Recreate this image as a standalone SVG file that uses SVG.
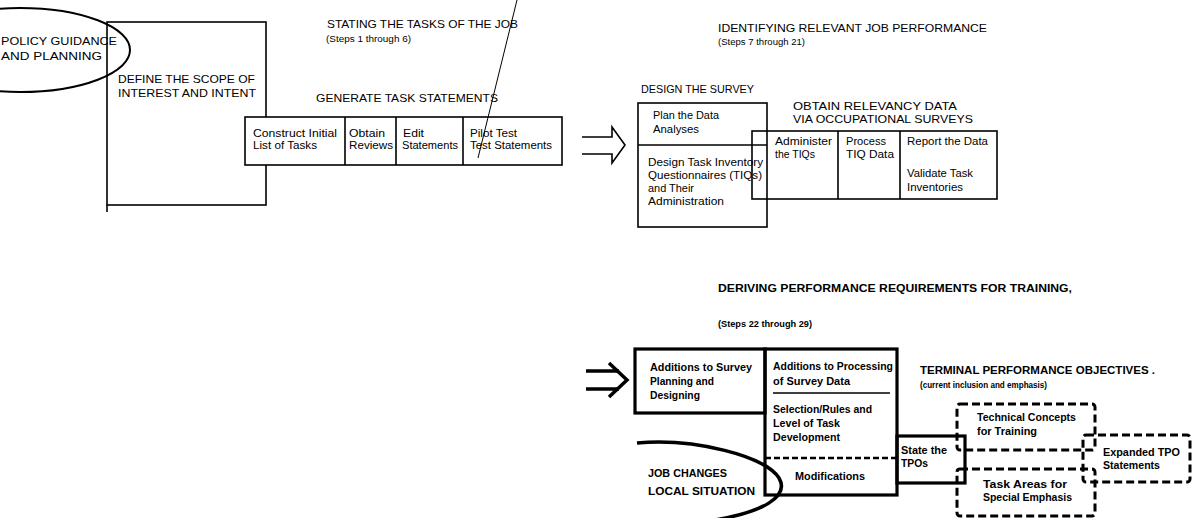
<svg xmlns="http://www.w3.org/2000/svg" width="1198" height="518" viewBox="0 0 1198 518">
<style>
.ln{fill:none;stroke:#000;stroke-width:1.6}
.bx{fill:#fff;stroke:#000;stroke-width:1.6}
.thk{fill:none;stroke:#000;stroke-width:3.2}
.dsh{fill:none;stroke:#000;stroke-width:3;stroke-dasharray:8 4;stroke-linejoin:round}
text{font-family:"Liberation Sans",Arial,sans-serif;fill:#000}
.h{font-size:10.5px}
.s{font-size:10px}
.st{font-size:8.5px}
.b{font-weight:bold}
</style>
<rect width="1198" height="518" fill="#fff"/>

<g id="policy">
<ellipse class="ln" cx="20" cy="50" rx="110" ry="42" style="stroke-width:2"/>
<text class="h" x="1" y="45" textLength="116" lengthAdjust="spacingAndGlyphs">POLICY GUIDANCE</text>
<text class="h" x="1" y="60" textLength="101" lengthAdjust="spacingAndGlyphs">AND PLANNING</text>
</g>

<g id="scope">
<rect class="ln" x="107" y="22" width="159" height="183"/>
<path class="ln" d="M107,205 V212"/>
<text class="h" x="118" y="83" textLength="137" lengthAdjust="spacingAndGlyphs">DEFINE THE SCOPE OF</text>
<text class="h" x="118" y="97" textLength="138" lengthAdjust="spacingAndGlyphs">INTEREST AND INTENT</text>
</g>

<g id="stating-heading">
<text class="h" x="327" y="28" textLength="191" lengthAdjust="spacingAndGlyphs">STATING THE TASKS OF THE JOB</text>
<text class="st" x="326" y="42" textLength="85" lengthAdjust="spacingAndGlyphs">(Steps 1 through 6)</text>
</g>

<g id="generate">
<text class="h" x="316" y="102" textLength="182" lengthAdjust="spacingAndGlyphs">GENERATE TASK STATEMENTS</text>
<rect class="bx" x="245" y="117" width="317" height="48"/>
<path class="ln" d="M345,117 V165 M396,117 V165 M463,117 V165"/>
<text class="s" x="253" y="137" textLength="84" lengthAdjust="spacingAndGlyphs">Construct Initial</text>
<text class="s" x="253" y="149" textLength="64" lengthAdjust="spacingAndGlyphs">List of Tasks</text>
<text class="s" x="349" y="137" textLength="36" lengthAdjust="spacingAndGlyphs">Obtain</text>
<text class="s" x="349" y="149" textLength="44" lengthAdjust="spacingAndGlyphs">Reviews</text>
<text class="s" x="403" y="137" textLength="21" lengthAdjust="spacingAndGlyphs">Edit</text>
<text class="s" x="402" y="149" textLength="56" lengthAdjust="spacingAndGlyphs">Statements</text>
<text class="s" x="470" y="137" textLength="47" lengthAdjust="spacingAndGlyphs">Pilot Test</text>
<text class="s" x="470" y="149" textLength="82" lengthAdjust="spacingAndGlyphs">Test Statements</text>
</g>

<g id="identifying-heading">
<text class="h" x="718" y="32" textLength="269" lengthAdjust="spacingAndGlyphs">IDENTIFYING RELEVANT JOB PERFORMANCE</text>
<text class="st" x="718" y="45" textLength="87" lengthAdjust="spacingAndGlyphs">(Steps 7 through 21)</text>
</g>

<g id="design">
<text class="h" x="641" y="93" textLength="113" lengthAdjust="spacingAndGlyphs">DESIGN THE SURVEY</text>
<rect class="ln" x="638" y="103" width="129" height="124"/>
<path class="ln" d="M638,145 H767"/>
<text class="s" x="653" y="119" textLength="66" lengthAdjust="spacingAndGlyphs">Plan the Data</text>
<text class="s" x="653" y="133" textLength="46" lengthAdjust="spacingAndGlyphs">Analyses</text>
<text class="s" x="648" y="166" textLength="115" lengthAdjust="spacingAndGlyphs">Design Task Inventory</text>
<text class="s" x="648" y="179" textLength="114" lengthAdjust="spacingAndGlyphs">Questionnaires (TIQs)</text>
<text class="s" x="648" y="192" textLength="46" lengthAdjust="spacingAndGlyphs">and Their</text>
<text class="s" x="648" y="205" textLength="76" lengthAdjust="spacingAndGlyphs">Administration</text>
</g>

<g id="obtain">
<text class="h" x="793" y="110" textLength="164" lengthAdjust="spacingAndGlyphs">OBTAIN RELEVANCY DATA</text>
<text class="h" x="793" y="123" textLength="180" lengthAdjust="spacingAndGlyphs">VIA OCCUPATIONAL SURVEYS</text>
<rect class="ln" x="752" y="131" width="245" height="68"/>
<path class="ln" d="M838,131 V199 M900,131 V199"/>
<text class="s" x="775" y="145" textLength="57" lengthAdjust="spacingAndGlyphs">Administer</text>
<text class="s" x="775" y="158" textLength="40" lengthAdjust="spacingAndGlyphs">the TIQs</text>
<text class="s" x="846" y="145" textLength="40" lengthAdjust="spacingAndGlyphs">Process</text>
<text class="s" x="846" y="158" textLength="48" lengthAdjust="spacingAndGlyphs">TIQ Data</text>
<text class="s" x="907" y="145" textLength="81" lengthAdjust="spacingAndGlyphs">Report the Data</text>
<text class="s" x="907" y="177" textLength="66" lengthAdjust="spacingAndGlyphs">Validate Task</text>
<text class="s" x="907" y="191" textLength="56" lengthAdjust="spacingAndGlyphs">Inventories</text>
</g>

<g id="deriving-heading">
<text class="h b" x="718" y="292" textLength="354" lengthAdjust="spacingAndGlyphs">DERIVING PERFORMANCE REQUIREMENTS FOR TRAINING,</text>
<text class="st b" x="718" y="327" textLength="94" lengthAdjust="spacingAndGlyphs">(Steps 22 through 29)</text>
</g>

<g id="additions-survey">
<rect class="thk" x="635" y="349" width="130" height="64"/>
<text class="s b" x="650" y="371" textLength="102" lengthAdjust="spacingAndGlyphs">Additions to Survey</text>
<text class="s b" x="650" y="385" textLength="64" lengthAdjust="spacingAndGlyphs">Planning and</text>
<text class="s b" x="650" y="399" textLength="50" lengthAdjust="spacingAndGlyphs">Designing</text>
</g>

<g id="additions-processing">
<rect class="thk" x="765" y="349" width="132" height="146"/>
<path class="ln" d="M773,393 H890"/>
<path d="M765,458 H897" fill="none" stroke="#000" stroke-width="2.6" stroke-dasharray="6 3"/>
<text class="s b" x="773" y="370" textLength="120" lengthAdjust="spacingAndGlyphs">Additions to Processing</text>
<text class="s b" x="773" y="385" textLength="77" lengthAdjust="spacingAndGlyphs">of Survey Data</text>
<text class="s b" x="773" y="413" textLength="99" lengthAdjust="spacingAndGlyphs">Selection/Rules and</text>
<text class="s b" x="773" y="427" textLength="67" lengthAdjust="spacingAndGlyphs">Level of Task</text>
<text class="s b" x="773" y="441" textLength="67" lengthAdjust="spacingAndGlyphs">Development</text>
<text class="s b" x="795" y="480" textLength="70" lengthAdjust="spacingAndGlyphs">Modifications</text>
</g>

<g id="job-changes">
<path class="thk" d="M637,443 C695,438 765,456 779,478 C790,497 762,512 715,520" style="stroke-width:3.5"/>
<text class="s b" x="648" y="477" textLength="79" lengthAdjust="spacingAndGlyphs">JOB CHANGES</text>
<text class="s b" x="648" y="495" textLength="107" lengthAdjust="spacingAndGlyphs">LOCAL SITUATION</text>
</g>

<g id="tpo-heading">
<text class="h b" x="920" y="374" textLength="235" lengthAdjust="spacingAndGlyphs">TERMINAL PERFORMANCE OBJECTIVES .</text>
<text class="st b" x="920" y="388" textLength="127" lengthAdjust="spacingAndGlyphs">(current inclusion and emphasis)</text>
</g>

<g id="state-tpos">
<rect class="thk" x="897" y="436" width="68" height="47"/>
<text class="s b" x="901" y="454" textLength="46" lengthAdjust="spacingAndGlyphs">State the</text>
<text class="s b" x="901" y="467" textLength="27" lengthAdjust="spacingAndGlyphs">TPOs</text>
</g>

<g id="technical-concepts">
<rect class="dsh" x="957" y="404" width="138" height="46" rx="3"/>
<text class="s b" x="977" y="421" textLength="99" lengthAdjust="spacingAndGlyphs">Technical Concepts</text>
<text class="s b" x="977" y="435" textLength="60" lengthAdjust="spacingAndGlyphs">for Training</text>
</g>

<g id="task-areas">
<rect class="dsh" x="957" y="469" width="138" height="47" rx="3"/>
<text class="s b" x="983" y="488" textLength="84" lengthAdjust="spacingAndGlyphs">Task Areas for</text>
<text class="s b" x="983" y="501" textLength="89" lengthAdjust="spacingAndGlyphs">Special Emphasis</text>
</g>

<g id="expanded-tpo">
<rect class="dsh" x="1083" y="435" width="107" height="47" rx="3"/>
<text class="s b" x="1103" y="456" textLength="77" lengthAdjust="spacingAndGlyphs">Expanded TPO</text>
<text class="s b" x="1103" y="469" textLength="57" lengthAdjust="spacingAndGlyphs">Statements</text>
</g>

<g id="connectors">
<path class="ln" d="M582,137 H612 V127 L625,145 L612,163 V154 H582"/>
<path class="thk" d="M586,371 H619 M586,389 H619" style="stroke-width:3.5"/>
<path class="thk" d="M609,363 L627,380 L609,397" style="stroke-width:3.5"/>
<path d="M517,0 L478,158" fill="none" stroke="#000" stroke-width="1"/>
</g>
</svg>
